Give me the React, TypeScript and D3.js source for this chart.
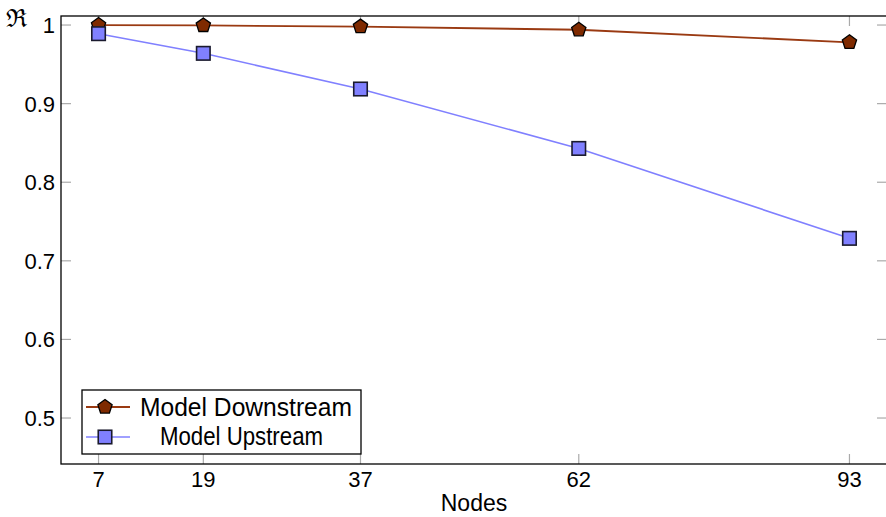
import React from "react";
import * as d3 from "d3";

const nodes = [7, 19, 37, 62, 93];
const downstream = [1.0, 0.9995, 0.998, 0.994, 0.978];
const upstream = [0.989, 0.964, 0.9186, 0.843, 0.7286];
const yTicks = [0.5, 0.6, 0.7, 0.8, 0.9, 1];
const yTickLabels = ["0.5", "0.6", "0.7", "0.8", "0.9", "1"];

const W = 886;
const H = 517;
const FONT = "'Liberation Sans', Arial, sans-serif";

const x = d3.scaleLinear().domain([2.7, 97.3]).range([61, 887]);
const y = d3.scaleLinear().domain([0.4415, 1.0115]).range([464, 16]);

const downColor = "#9a3a12";
const downFill = "#7f2a00";
const upColor = "#8080ff";

function pentagonPath(r: number) {
  const pts = d3.range(5).map((i) => {
    const a = -Math.PI / 2 + (i * 2 * Math.PI) / 5;
    return [r * Math.cos(a), r * Math.sin(a)] as [number, number];
  });
  return d3.line()(pts) + "Z";
}

const pent = pentagonPath(7.5);

function Pentagon({ cx, cy }: { cx: number; cy: number }) {
  return <path d={pent} transform={`translate(${cx},${cy})`} fill={downFill} stroke="#000" strokeWidth={1.3} />;
}

function Square({ cx, cy }: { cx: number; cy: number }) {
  const s = 13.5;
  return <rect x={cx - s / 2} y={cy - s / 2} width={s} height={s} fill={upColor} stroke="#1a1a2e" strokeWidth={1.6} />;
}

export default function App() {
  const line = d3
    .line<[number, number]>()
    .x((d) => x(d[0]))
    .y((d) => y(d[1]));
  const downPts = nodes.map((n, i) => [n, downstream[i]] as [number, number]);
  const upPts = nodes.map((n, i) => [n, upstream[i]] as [number, number]);
  const [x0, x1] = x.range();
  const [yb, yt] = y.range();
  const tickLen = 10;
  const tickColor = "#aaaaaa";

  return (
    <svg width={W} height={H} style={{ position: "absolute", left: 0, top: 0 }} fontFamily={FONT}>
      <rect width={W} height={H} fill="#fff" />
      {/* y ticks, drawn inward on both sides */}
      {yTicks.map((t, i) => (
        <g key={"y" + i}>
          <line x1={x0} x2={x0 + tickLen} y1={y(t)} y2={y(t)} stroke={tickColor} strokeWidth={1.2} />
          <line x1={x1 - tickLen} x2={x1} y1={y(t)} y2={y(t)} stroke={tickColor} strokeWidth={1.2} />
          <text x={55} y={y(t)} dy="0.36em" textAnchor="end" fontSize={22} fill="#000">
            {yTickLabels[i]}
          </text>
        </g>
      ))}
      {/* x ticks */}
      {nodes.map((n) => (
        <g key={"x" + n}>
          <line x1={x(n)} x2={x(n)} y1={yb} y2={yb - tickLen} stroke={tickColor} strokeWidth={1.2} />
          <line x1={x(n)} x2={x(n)} y1={yt} y2={yt + tickLen} stroke={tickColor} strokeWidth={1.2} />
          <text x={x(n)} y={487} textAnchor="middle" fontSize={22} fill="#000">
            {n}
          </text>
        </g>
      ))}
      <text x={474} y={511} textAnchor="middle" fontSize={23} fill="#000">
        Nodes
      </text>
      <text x={6} y={27} fontSize={25} fill="#000" fontFamily="'DejaVu Serif', serif">
        ℜ
      </text>

      {/* series */}
      <path d={line(upPts) || ""} fill="none" stroke={upColor} strokeWidth={1.6} />
      <path d={line(downPts) || ""} fill="none" stroke={downColor} strokeWidth={1.8} />
      {downPts.map((p, i) => (
        <Pentagon key={"d" + i} cx={x(p[0])} cy={y(p[1])} />
      ))}
      {upPts.map((p, i) => (
        <Square key={"u" + i} cx={x(p[0])} cy={y(p[1])} />
      ))}

      {/* frame */}
      <rect x={x0} y={yt} width={x1 - x0} height={yb - yt} fill="none" stroke="#000" strokeWidth={1.3} />

      {/* legend */}
      <g>
        <rect x={82} y={390} width={279} height={64} fill="#fff" stroke="#000" strokeWidth={1.3} />
        <line x1={86} x2={130} y1={407} y2={407} stroke={downColor} strokeWidth={1.8} />
        <Pentagon cx={105} cy={407} />
        <text x={140} y={416} fontSize={25} fill="#000" textLength={212} lengthAdjust="spacingAndGlyphs">
          Model Downstream
        </text>
        <line x1={86} x2={130} y1={437} y2={437} stroke={upColor} strokeWidth={1.6} />
        <Square cx={105} cy={437} />
        <text x={160} y={445} fontSize={25} fill="#000" textLength={163} lengthAdjust="spacingAndGlyphs">
          Model Upstream
        </text>
      </g>
    </svg>
  );
}
